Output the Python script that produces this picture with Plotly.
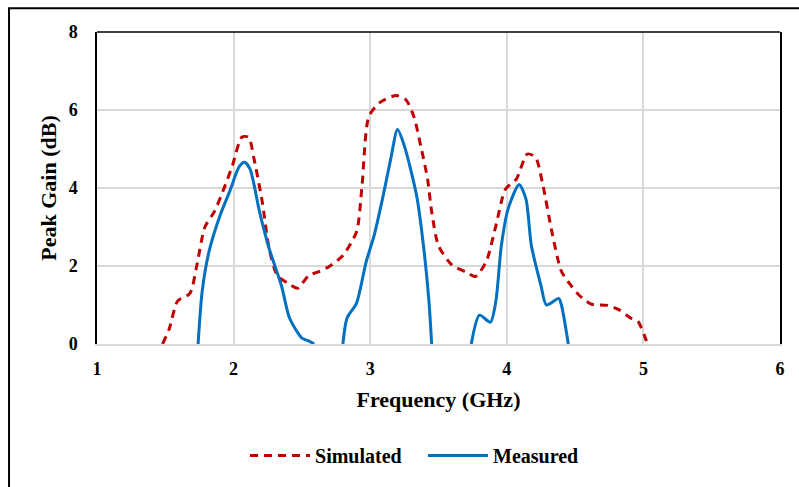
import plotly.graph_objects as go

sim_x = [1.48, 1.53, 1.59, 1.68, 1.73, 1.79, 1.86, 1.92, 1.99, 2.06, 2.11, 2.15, 2.21, 2.26,
         2.32, 2.40, 2.47, 2.55, 2.62, 2.70, 2.80, 2.90, 2.94, 2.99, 3.07, 3.19, 3.26, 3.32,
         3.37, 3.42, 3.45, 3.50, 3.60, 3.70, 3.77, 3.85, 3.92, 3.99, 4.07, 4.15, 4.21, 4.26,
         4.33, 4.40, 4.47, 4.53, 4.62, 4.74, 4.82, 4.91, 4.96, 5.02, 5.03]
sim_y = [0, 0.4, 1.1, 1.3, 2.0, 3.0, 3.4, 3.9, 4.56, 5.3, 5.3, 4.74, 3.64, 2.45,
         1.76, 1.55, 1.43, 1.76, 1.85, 1.99, 2.27, 2.88, 4.05, 5.83, 6.19, 6.37, 6.27, 5.83,
         5.08, 4.23, 3.39, 2.52, 2.02, 1.85, 1.73, 2.12, 3.03, 3.97, 4.23, 4.87, 4.79, 4.15,
         2.88, 1.86, 1.5, 1.25, 1.02, 0.99, 0.88, 0.66, 0.58, 0.1, 0]

meas_x = [1.74, 1.77, 1.82, 1.90, 1.97, 2.04, 2.08, 2.12, 2.19, 2.26, 2.35, 2.41, 2.50, 2.55, 2.59,
          None,
          2.80, 2.83, 2.90, 2.97, 3.03, 3.09, 3.15, 3.20, 3.25, 3.34, 3.39, 3.43, 3.45,
          None,
          3.74, 3.80, 3.88, 3.92, 3.96, 4.01, 4.09, 4.14, 4.18, 4.25, 4.29, 4.38, 4.40, 4.45]
meas_y = [0, 1.35, 2.37, 3.29, 3.9, 4.54, 4.66, 4.49, 3.39, 2.45, 1.5, 0.66, 0.15, 0.08, 0,
          None,
          0, 0.66, 1.05, 2.1, 2.8, 3.72, 4.74, 5.5, 5.08, 3.8, 2.52, 1.1, 0,
          None,
          0, 0.74, 0.56, 1.1, 2.52, 3.47, 4.09, 3.72, 2.52, 1.5, 1.0, 1.17, 1.0, 0]

x_ticks = [1, 2, 3, 4, 5, 6]
y_ticks = [0, 2, 4, 6, 8]

FONT = "'Liberation Serif', 'Times New Roman', Times, serif"

fig = go.Figure()
fig.add_trace(go.Scatter(x=sim_x, y=sim_y, mode="lines", name="<b>Simulated</b>",
                         line=dict(color="#C00000", width=3, dash="8px,6px", shape="spline", smoothing=0.7)))
fig.add_trace(go.Scatter(x=meas_x, y=meas_y, mode="lines", name="<b>Measured</b>",
                         line=dict(color="#0070C0", width=3, shape="spline", smoothing=0.7)))

fig.update_layout(
    width=799, height=487,
    margin=dict(l=97, r=19, t=32, b=141),
    paper_bgcolor="white", plot_bgcolor="white",
    font=dict(family=FONT, color="black"),
    showlegend=True,
    legend=dict(orientation="h", x=0.2167, xanchor="left", y=-0.357, yanchor="middle",
                font=dict(family=FONT, size=20, color="black"), bgcolor="rgba(0,0,0,0)",
                itemwidth=60, entrywidth=103, entrywidthmode="pixels"),
    xaxis=dict(range=[1, 6], tickvals=x_ticks, ticktext=[f"<b>{v}</b>" for v in x_ticks],
               showgrid=True, gridcolor="#d9d9d9", gridwidth=1.5,
               showline=True, linecolor="#d9d9d9", linewidth=2, zeroline=False,
               ticks="", ticklabelstandoff=7,
               tickfont=dict(family=FONT, size=18, color="black"),
               title=dict(text="<b>Frequency (GHz)</b>", font=dict(family=FONT, size=22, color="black"), standoff=14)),
    yaxis=dict(range=[0, 8], tickvals=y_ticks, ticktext=[f"<b>{v}</b>" for v in y_ticks],
               showgrid=True, gridcolor="#d9d9d9", gridwidth=1.5,
               showline=True, linecolor="black", linewidth=1.5, mirror=True, zeroline=False,
               ticks="", ticklabelstandoff=14,
               tickfont=dict(family=FONT, size=18, color="black"),
               title=dict(text="<b>Peak Gain (dB)</b>", font=dict(family=FONT, size=22, color="black"), standoff=6)),
    shapes=[
        dict(type="line", xref="paper", yref="paper", x0=0, x1=1, y0=1, y1=1,
             line=dict(color="black", width=1.5)),
        dict(type="rect", xref="paper", yref="paper", x0=-0.1288, x1=1.04, y0=-0.48, y1=1.0764,
             line=dict(color="black", width=2), layer="above"),
    ],
)

fig.write_html("out.html")
